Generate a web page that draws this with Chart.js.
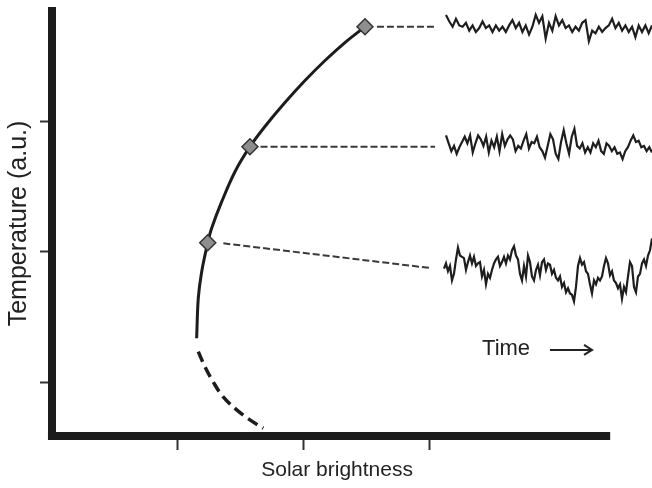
<!DOCTYPE html>
<html>
<head>
<meta charset="utf-8">
<script src="https://cdn.jsdelivr.net/npm/chart.js@4.4.1/dist/chart.umd.min.js"></script>
<style>
  html, body { margin: 0; padding: 0; background: #ffffff; }
  #wrap { width: 652px; height: 488px; }
</style>
</head>
<body>
<div id="wrap"><canvas id="chart" width="652" height="488"></canvas></div>
<script>
// Equilibrium temperature vs solar brightness: stable branch (solid), unstable branch (dashed)
const stableBrightness  = [2.484, 2.325, 2.167, 2.008, 1.849, 1.690, 1.571, 1.452, 1.347, 1.267, 1.236, 1.188, 1.161, 1.148];
const stableTemperature = [3.720, 3.599, 3.462, 3.309, 3.141, 2.958, 2.804, 2.613, 2.384, 2.181, 2.071, 1.850, 1.647, 1.341];
const unstableBrightness  = [1.161, 1.214, 1.278, 1.357, 1.466, 1.571, 1.677];
const unstableTemperature = [1.239, 1.124, 1.010, 0.895, 0.794, 0.718, 0.654];

// Three equilibrium states that are sampled over time
const stateBrightness  = [2.484, 1.571, 1.236];
const stateTemperature = [3.720, 2.804, 2.071];

// Dashed leaders from each state to its time record: [x0, y0, x1, y1]
const leaderHigh = [2.579, 3.720, 3.040, 3.720];
const leaderMid  = [1.655, 2.804, 3.040, 2.804];
const leaderLow  = [1.360, 2.066, 3.000, 1.878];

// Temperature fluctuations around each state, in 0.01 a.u.
const fluctHigh = [10, 5, 1, 7, 2, 1, 4, -2, 2, -3, 0, 5, 0, 2, -3, 2, -2, 1, -3, 2, 6, 0, 4, -3, 2, -5, 1, 10, 4, 9, -8, 4, -2, 9, 2, 6, 0, 2, -3, 1, -2, 4, 6, -10, -2, -4, 1, -3, 0, 2, 7, 0, 4, -2, 2, -3, 1, -7, 2, -3, 2, -4, 2];
const fluctMid = [9, 3, -3, 1, -5, 0, 4, 8, 3, 9, -4, 3, 9, 6, 1, 8, -4, 5, 0, 8, -3, 10, 1, 6, 9, 6, -3, 1, -1, 5, 10, -1, 4, 3, 8, 0, -3, -8, 1, 10, 6, -5, -9, 4, 13, 3, -5, 8, 14, 1, -1, 3, -4, 0, -4, 3, 0, 5, -3, -5, 3, 1, -3, 0, -5, -4, -9, -3, 0, 5, 9, 4, 5, 0, 1, -3, 0, -4];
const fluctLow = [1, 5, -1, 3, -8, -3, 8, 17, 11, 10, 9, 0, 6, 11, 5, 10, 3, 5, 6, -5, 0, -11, -3, -6, 0, 5, 8, 10, 3, 6, 10, 5, 11, 8, 15, 18, 11, 8, -3, -8, 3, -5, 11, 6, -5, -8, 0, 4, -4, 6, 8, 0, 5, 4, -3, 0, -6, -8, -5, -13, -10, -17, -14, -18, -19, -24, -13, 3, 9, 4, 6, -1, -3, -11, -18, -8, -11, -6, -8, -5, 3, 9, 5, -4, -1, -8, -10, -14, -11, -22, -13, -17, -5, 6, 3, -13, -17, -5, -3, 5, 8, 3, 11, 15, 24];
const fluctBase = [3.71, 2.80, 1.863];

const xTickValues = [1, 2, 3];
const yTickValues = [1, 2, 3];

// Axis extents: the brightness axis line stops short of the records' right end
const X_MIN = 0, X_AXIS_END = 4.43, X_MAX = 4.762;
const Y_MIN = 0.595, Y_MAX = 3.84;

// Where each time record sits along the brightness axis
const recordStart = [3.127, 3.127, 3.111];
const recordEnd = X_MAX;

const FONT = "'Liberation Sans', Arial, Helvetica, sans-serif";
const INK = '#1c1c1c';

const zip = (xs, ys) => xs.map((x, i) => ({ x: x, y: ys[i] }));
const leader = (s) => [{ x: s[0], y: s[1] }, { x: s[2], y: s[3] }];
const record = (vals, base, x0) => vals.map((v, i) => ({
  x: x0 + i * (recordEnd - x0) / (vals.length - 1),
  y: base + v / 100
}));

const leaderStyle = {
  showLine: true, pointRadius: 0, borderColor: '#3a3a3a', borderWidth: 2,
  borderDash: [7, 3], tension: 0
};
const recordStyle = {
  showLine: true, pointRadius: 0, borderColor: '#1e1e1e', borderWidth: 2.2,
  tension: 0, clip: false
};

const background = {
  id: 'background',
  beforeDraw(chart) {
    const ctx = chart.ctx;
    ctx.save();
    ctx.fillStyle = '#ffffff';
    ctx.fillRect(0, 0, chart.width, chart.height);
    ctx.restore();
  }
};

// Axis title under the brightness axis and the "Time →" note next to the records
const notes = {
  id: 'notes',
  afterDatasetsDraw(chart) {
    const { ctx, scales: { x, y } } = chart;
    ctx.save();
    ctx.fillStyle = '#222';
    ctx.font = '21px ' + FONT;
    ctx.textBaseline = 'middle';
    ctx.textAlign = 'center';
    ctx.fillText('Solar brightness', x.getPixelForValue((X_MIN + X_AXIS_END) / 2) + 6, x.bottom - 18);

    ctx.font = '22px ' + FONT;
    ctx.textAlign = 'left';
    ctx.fillText('Time', x.getPixelForValue(3.413), y.getPixelForValue(1.26));
    const ax0 = x.getPixelForValue(3.952);
    const ax1 = x.getPixelForValue(4.286);
    const ay = y.getPixelForValue(1.252);
    ctx.strokeStyle = '#222';
    ctx.lineWidth = 2;
    ctx.beginPath();
    ctx.moveTo(ax0, ay);
    ctx.lineTo(ax1, ay);
    ctx.moveTo(ax1 - 8, ay - 5);
    ctx.lineTo(ax1, ay);
    ctx.lineTo(ax1 - 8, ay + 5);
    ctx.stroke();
    ctx.restore();
  }
};

new Chart(document.getElementById('chart'), {
  type: 'scatter',
  data: {
    datasets: [
      {
        data: zip(stateBrightness, stateTemperature),
        pointStyle: 'rectRot', pointRadius: 8,
        pointBackgroundColor: '#8e8e8e', pointBorderColor: '#333', pointBorderWidth: 1.5
      },
      {
        data: zip(stableBrightness, stableTemperature),
        showLine: true, pointRadius: 0, borderColor: INK, borderWidth: 3, tension: 0.35
      },
      {
        data: zip(unstableBrightness, unstableTemperature),
        showLine: true, pointRadius: 0, borderColor: INK, borderWidth: 3.5,
        borderDash: [11, 6], tension: 0.35
      },
      Object.assign({ data: leader(leaderHigh) }, leaderStyle),
      Object.assign({ data: leader(leaderMid) }, leaderStyle),
      Object.assign({ data: leader(leaderLow) }, leaderStyle),
      Object.assign({ data: record(fluctHigh, fluctBase[0], recordStart[0]) }, recordStyle),
      Object.assign({ data: record(fluctMid, fluctBase[1], recordStart[1]) }, recordStyle),
      Object.assign({ data: record(fluctLow, fluctBase[2], recordStart[2]) }, recordStyle),
      {
        // brightness axis line
        data: [{ x: X_MIN - 0.032, y: Y_MIN }, { x: X_AXIS_END, y: Y_MIN }],
        showLine: true, pointRadius: 0, borderColor: INK, borderWidth: 8, clip: false
      }
    ]
  },
  options: {
    responsive: false,
    animation: false,
    devicePixelRatio: 1,
    layout: { autoPadding: false, padding: { top: 11, right: 0, left: 0, bottom: 0 } },
    plugins: { legend: { display: false }, tooltip: { enabled: false } },
    scales: {
      x: {
        type: 'linear', min: X_MIN, max: X_MAX,
        afterBuildTicks: (s) => { s.ticks = xTickValues.map(v => ({ value: v })); },
        afterFit: (s) => { s.height = 52; },
        ticks: { display: false },
        grid: { drawOnChartArea: false, drawTicks: true, tickLength: 14, tickColor: '#333', tickWidth: 2 },
        border: { display: false },
        title: { display: false }
      },
      y: {
        type: 'linear', min: Y_MIN, max: Y_MAX,
        afterBuildTicks: (s) => { s.ticks = yTickValues.map(v => ({ value: v })); },
        afterFit: (s) => { s.width = 52; },
        ticks: { display: false },
        grid: { drawOnChartArea: false, drawTicks: true, tickLength: 12, tickColor: '#333', tickWidth: 2 },
        border: { display: true, width: 8, color: INK },
        title: { display: true, text: 'Temperature (a.u.)', color: '#222', font: { family: FONT, size: 25 }, padding: { top: 4, bottom: 0 } }
      }
    }
  },
  plugins: [background, notes]
});
</script>
</body>
</html>
